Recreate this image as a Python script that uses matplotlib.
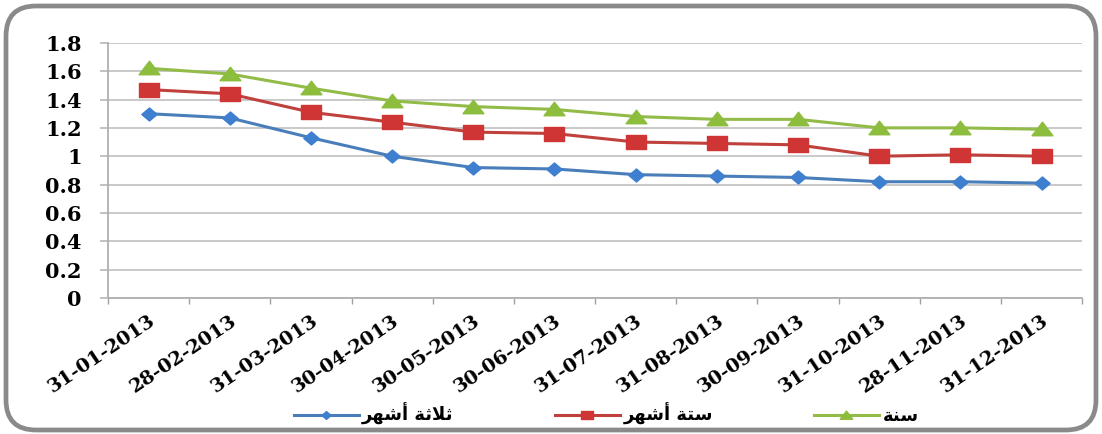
import matplotlib
matplotlib.use("Agg")
import matplotlib.pyplot as plt
from matplotlib.patches import FancyBboxPatch
from matplotlib.path import Path
from matplotlib.markers import MarkerStyle

# month-end dates on the x axis
dates = [
    "31-01-2013", "28-02-2013", "31-03-2013", "30-04-2013",
    "30-05-2013", "30-06-2013", "31-07-2013", "31-08-2013",
    "30-09-2013", "31-10-2013", "28-11-2013", "31-12-2013",
]
three_months = [1.30, 1.27, 1.13, 1.00, 0.92, 0.91, 0.87, 0.86, 0.85, 0.82, 0.82, 0.81]
six_months = [1.47, 1.44, 1.31, 1.24, 1.17, 1.16, 1.10, 1.09, 1.08, 1.00, 1.01, 1.00]
one_year = [1.62, 1.58, 1.48, 1.39, 1.35, 1.33, 1.28, 1.26, 1.26, 1.20, 1.20, 1.19]
series_names = ["ثلاثة أشهر", "ستة أشهر", "سنة"]
y_ticks = [0, 0.2, 0.4, 0.6, 0.8, 1, 1.2, 1.4, 1.6, 1.8]

# contextual forms: (isolated, final, initial, medial); None = does not join forward
FORMS = {
    "ث": ("\ufe99", "\ufe9a", "\ufe9b", "\ufe9c"),
    "ل": ("\ufedd", "\ufede", "\ufedf", "\ufee0"),
    "ا": ("\ufe8d", "\ufe8e", None, None),
    "أ": ("\ufe83", "\ufe84", None, None),
    "ة": ("\ufe93", "\ufe94", None, None),
    "ش": ("\ufeb5", "\ufeb6", "\ufeb7", "\ufeb8"),
    "ه": ("\ufee9", "\ufeea", "\ufeeb", "\ufeec"),
    "ر": ("\ufead", "\ufeae", None, None),
    "س": ("\ufeb1", "\ufeb2", "\ufeb3", "\ufeb4"),
    "ت": ("\ufe95", "\ufe96", "\ufe97", "\ufe98"),
    "ن": ("\ufee5", "\ufee6", "\ufee7", "\ufee8"),
}
LAM_ALEF = {"ا": ("\ufefb", "\ufefc"), "أ": ("\ufef7", "\ufef8")}


def shape_arabic(text):
    # matplotlib has no complex text layout, so join and reverse by hand
    chars = list(text)
    out = []
    i = 0
    while i < len(chars):
        c = chars[i]
        if c not in FORMS:
            out.append(c)
            i += 1
            continue
        prev = chars[i - 1] if i > 0 else None
        joins_prev = prev in FORMS and FORMS[prev][2] is not None
        nxt = chars[i + 1] if i + 1 < len(chars) else None
        if c == "ل" and nxt in LAM_ALEF:
            out.append(LAM_ALEF[nxt][1 if joins_prev else 0])
            i += 2
            continue
        joins_next = FORMS[c][2] is not None and nxt in FORMS
        iso, fin, ini, med = FORMS[c]
        if joins_prev and joins_next:
            out.append(med)
        elif joins_prev:
            out.append(fin)
        elif joins_next:
            out.append(ini)
        else:
            out.append(iso)
        i += 1
    return "".join(reversed(out))


def wide_marker(verts):
    return MarkerStyle(Path(verts + [verts[0]], closed=True))


diamond = wide_marker([(0, 0.85), (1, 0), (0, -0.85), (-1, 0)])
square = wide_marker([(-1, 0.65), (1, 0.65), (1, -0.65), (-1, -0.65)])
triangle = wide_marker([(0, 0.7), (1, -0.6), (-1, -0.6)])

fig = plt.figure(figsize=(11.02, 4.34), dpi=100)
fig.patch.set_facecolor("white")

frame = FancyBboxPatch((0.06, 0.04), 10.9, 4.24,
                       boxstyle="round,pad=0,rounding_size=0.3",
                       transform=fig.dpi_scale_trans, facecolor="none",
                       edgecolor="#8a8a8a", linewidth=3.4, zorder=-1)
fig.patches.append(frame)

ax = fig.add_axes([0.098, 0.3134, 0.884, 0.588])
ax.set_facecolor("none")
x = list(range(len(dates)))

styles = [
    (three_months, "#4a7ebb", "#3f7fd0", diamond, 11),
    (six_months, "#c0403c", "#cf3535", square, 15),
    (one_year, "#92bb48", "#8cbd3c", triangle, 15),
]
for (vals, lc, mc, mk, ms), name in zip(styles, series_names):
    ax.plot(x, vals, color=lc, linewidth=2.2, marker=mk, markersize=ms,
            markerfacecolor=mc, markeredgecolor=mc, label=shape_arabic(name),
            zorder=3)

ax.set_xlim(-0.5, len(dates) - 0.5)
ax.set_ylim(0, 1.8)
ax.set_yticks(y_ticks)
ax.set_yticklabels(["0", "0.2", "0.4", "0.6", "0.8", "1", "1.2", "1.4", "1.6", "1.8"])
ax.yaxis.grid(True, color="#c0c0c0", linewidth=1.2)
ax.set_axisbelow(True)

ax.set_xticks(x)
ax.set_xticklabels(dates, rotation=34, ha="right", rotation_mode="anchor")
ax.set_xticks([i - 0.5 for i in range(len(dates) + 1)], minor=True)
ax.tick_params(axis="x", which="major", length=0, pad=10)
ax.tick_params(axis="x", which="minor", length=4, color="#a0a0a0", width=1)
ax.tick_params(axis="y", length=6, color="#b8b8b8", width=1.2, pad=13)

for lab in ax.get_xticklabels():
    lab.set_fontsize(14)
for lab in ax.get_yticklabels():
    lab.set_fontsize(15)
for lab in ax.get_xticklabels() + ax.get_yticklabels():
    lab.set_fontfamily("DejaVu Serif")
    lab.set_fontweight("bold")

for side in ("top", "right"):
    ax.spines[side].set_visible(False)
for side in ("left", "bottom"):
    ax.spines[side].set_color("#b0b0b0")
    ax.spines[side].set_linewidth(1.3)

fig.legend(loc="center", bbox_to_anchor=(0.55, 0.046), ncol=3, frameon=False,
           handlelength=3.6, columnspacing=5.6, handletextpad=0.2,
           prop={"family": "DejaVu Sans", "weight": "bold", "size": 13},
           markerscale=0.6)

fig.savefig("out.png", dpi=100, facecolor="white")
